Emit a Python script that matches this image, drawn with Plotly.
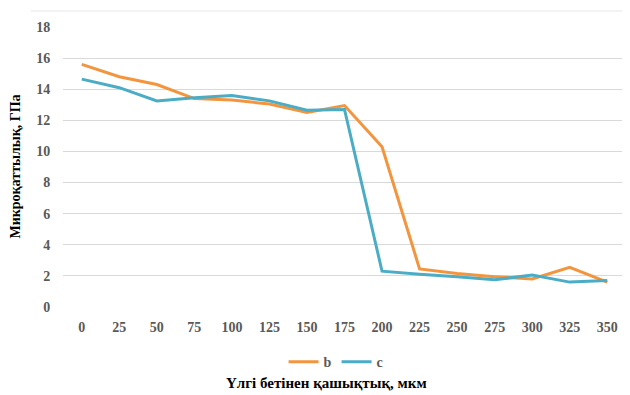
import plotly.graph_objects as go

x_labels = ["0", "25", "50", "75", "100", "125", "150", "175", "200", "225", "250", "275", "300", "325", "350"]
b_values = [15.6, 14.8, 14.3, 13.4, 13.3, 13.05, 12.5, 12.95, 10.3, 2.45, 2.15, 1.95, 1.8, 2.55, 1.6]
c_values = [14.65, 14.1, 13.25, 13.45, 13.6, 13.25, 12.65, 12.7, 2.3, 2.1, 1.95, 1.75, 2.05, 1.6, 1.7]

font_family = "Liberation Serif"

fig = go.Figure()
fig.add_trace(go.Scatter(x=x_labels, y=b_values, name="b", mode="lines",
                         line=dict(color="#F2953E", width=3)))
fig.add_trace(go.Scatter(x=x_labels, y=c_values, name="c", mode="lines",
                         line=dict(color="#4BACC6", width=3)))

fig.update_layout(
    width=622, height=387,
    margin=dict(l=55, r=4, t=19, b=88),
    paper_bgcolor="white", plot_bgcolor="white",
    font=dict(family=font_family, color="#595959"),
    showlegend=True,
    legend=dict(orientation="h", x=0.485, xanchor="center", y=-0.14, yanchor="top",
                font=dict(size=14, color="#595959", family=font_family, weight="bold"),
                itemwidth=30, tracegroupgap=0),
    xaxis=dict(type="category", range=[-0.5, 14.5], showgrid=False, zeroline=False, showline=False,
               ticks="outside", ticklen=7, tickcolor="rgba(0,0,0,0)",
               tickfont=dict(size=14, color="#595959", family=font_family, weight="bold")),
    yaxis=dict(range=[0, 18], dtick=2, showgrid=True, gridcolor="#D9D9D9", gridwidth=1,
               zeroline=False, showline=False, ticks="outside", ticklen=9,
               tickcolor="rgba(0,0,0,0)",
               tickfont=dict(size=14, color="#595959", family=font_family, weight="bold")),
    annotations=[
        dict(text="Микроқаттылық, ГПа", xref="paper", yref="paper", x=-0.086, y=0.5,
             xanchor="center", yanchor="middle", textangle=-90, showarrow=False,
             font=dict(size=14, color="black", family=font_family, weight="bold")),
        dict(text="Үлгі бетінен қашықтық, мкм", xref="paper", yref="paper", x=0.468, y=-0.271,
             xanchor="center", yanchor="middle", showarrow=False,
             font=dict(size=15, color="black", family=font_family, weight="bold")),
    ],
    shapes=[
        dict(type="line", xref="paper", yref="paper", x0=-0.057, x1=1.01, y0=1.057, y1=1.057,
             line=dict(color="#E6E6E6", width=1)),
    ],
)

fig.write_html("out.html")
